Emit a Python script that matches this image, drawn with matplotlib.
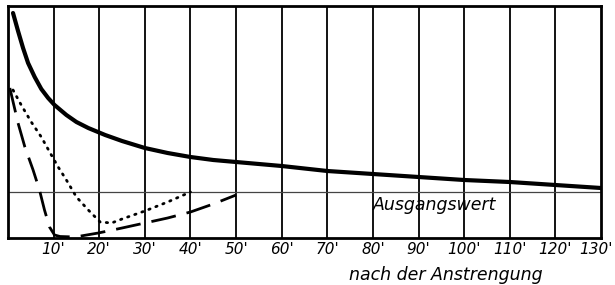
import matplotlib.pyplot as plt
from matplotlib.transforms import ScaledTranslation

# Werte (x in Minuten, y in willkürlichen Einheiten)
ausgangswert = 46
x_ticks = [10, 20, 30, 40, 50, 60, 70, 80, 90, 100, 110, 120, 130]
tick_labels = [f"{t}'" for t in x_ticks]

x_solid = [1.1, 2.2, 3.3, 4.4, 5.85, 7.3, 8.8, 10.2, 12.8, 15, 17.6, 21.3, 25, 30,
           35, 40, 45, 50, 60, 70, 80, 90, 100, 110, 120, 130]
y_solid = [225, 207, 190, 175, 161, 149, 140, 133, 123, 116, 110, 103, 97, 90,
           85, 81, 78, 76, 72, 67, 64, 61, 58, 56, 53, 50]

x_dot = [1.1, 2.9, 5.1, 7.3, 9.5, 11, 12.8, 15, 17.6, 20.2, 22.7, 25, 30, 35, 40]
y_dot = [148, 133, 116, 101, 83, 71, 58, 41, 28, 16, 15, 19, 27, 36, 46]

x_dash = [0.4, 2.2, 3.7, 5.5, 6.9, 8.0, 9.1, 10.2, 11.4, 14.7, 19.8, 25, 30, 35,
          40, 45, 50]
y_dash = [150, 115, 91, 68, 48, 28, 11, 3, 1.5, 1, 5, 10, 15, 20, 26, 34, 43]

fig = plt.figure(figsize=(6.15, 2.85), dpi=100)
ax = fig.add_axes([8/615, 47/285, 593/615, 232/285])
ax.set_xlim(0, 130)
ax.set_ylim(0, 232)

# Gitterlinien
for t in x_ticks[:-1]:
    ax.axvline(t, color='black', lw=1.3, zorder=1)
ax.axhline(ausgangswert, color='#444444', lw=0.9, zorder=1)

ax.plot(x_solid, y_solid, color='black', lw=3, solid_capstyle='round',
        solid_joinstyle='round', zorder=3)
ax.plot(x_dot, y_dot, color='black', lw=2, linestyle=(0, (0.5, 2.2)),
        dash_capstyle='round', zorder=3)
ax.plot(x_dash, y_dash, color='black', lw=2, linestyle=(0, (9, 4)),
        dash_joinstyle='round', zorder=3)

ax.text(80, ausgangswert - 4, 'Ausgangswert', fontsize=12.5, style='italic',
        ha='left', va='top')

for s in ax.spines.values():
    s.set_linewidth(2)
ax.set_xticks(x_ticks)
ax.set_xticklabels(tick_labels, fontsize=11, style='italic')
ax.tick_params(axis='x', length=0, pad=3)
# letztes Label nach links schieben, damit es nicht abgeschnitten wird
last = ax.get_xticklabels()[-1]
last.set_ha('right')
last.set_transform(last.get_transform() + ScaledTranslation(0.12, 0, fig.dpi_scale_trans))
ax.set_yticks([])
ax.text(96, -28, 'nach der Anstrengung', fontsize=12.5, style='italic',
        ha='center', va='top')

plt.savefig('out.png', dpi=100)
